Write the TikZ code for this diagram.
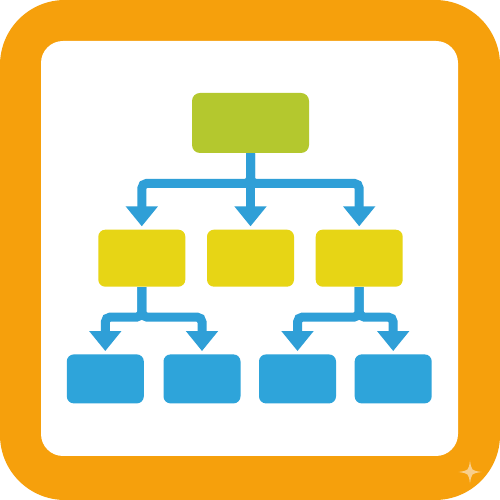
\documentclass[tikz,border=0pt]{standalone}
\usepackage{tikz}
\usetikzlibrary{positioning,arrows.meta}
\definecolor{frameorange}{HTML}{F6A00C}
\definecolor{sparkpeach}{HTML}{F9CF8C}
\definecolor{rootgreen}{HTML}{B4C82E}
\definecolor{midyellow}{HTML}{E7D515}
\definecolor{leafblue}{HTML}{2EA4DA}
\definecolor{linkblue}{HTML}{2F9FD7}

\begin{document}
\begin{tikzpicture}[
                rootnode/.style={rectangle, rounded corners=1.6mm, fill=rootgreen, inner sep=0pt, minimum width=2.34cm, minimum height=1.2cm},
                midnode/.style={rectangle, rounded corners=1.4mm, fill=midyellow, inner sep=0pt, minimum width=1.74cm, minimum height=1.14cm},
                leafnode/.style={rectangle, rounded corners=1.4mm, fill=leafblue, inner sep=0pt, minimum width=1.54cm, minimum height=0.98cm},
                link/.style={draw=linkblue, line width=1.8mm, rounded corners=1mm, -{Triangle[width=6.2mm,length=4mm]}, shorten >=0.6mm},
            ]
            \useasboundingbox (0,0) rectangle (10,10);
            \fill[white] (0,0) rectangle (10,10);
            \fill[frameorange, rounded corners=13mm] (0,0) rectangle (10,10);
            \fill[white, rounded corners=4.4mm] (0.82,0.88) rectangle (9.16,9.18);
            \begin{scope}[shift={(9.4,0.56)}]
                \fill[sparkpeach] (0,0.23) .. controls (0.03,0.03) .. (0.23,0) .. controls (0.03,-0.03) .. (0,-0.23)
                    .. controls (-0.03,-0.03) .. (-0.23,0) .. controls (-0.03,0.03) .. cycle;
            \end{scope}

            \node[rootnode] (root)  at (5.01,7.54)                      {};
            \node[midnode]  (midB)  [below = 1.52 of root]              {};
            \node[midnode]  (midA)  [left = .42 of midB]                {};
            \node[midnode]  (midC)  [right = .42 of midB]               {};
            \node[leafnode] (leafB) [below = 1.34 of midB, xshift=-9.7mm] {};
            \node[leafnode] (leafC) [below = 1.34 of midB, xshift=9.4mm]  {};
            \node[leafnode] (leafA) [left = .38 of leafB]               {};
            \node[leafnode] (leafD) [right = .36 of leafC]              {};

            \draw[link] (root.south) -- ++(0,-0.6) -| (midA.north);
            \draw[link] (root.south) -- ++(0,-0.6) -| (midC.north);
            \draw[link] (root.south) -- (midB.north);
            \draw[link] (midA.south) -- ++(0,-0.6) -| (leafA.north);
            \draw[link] (midA.south) -- ++(0,-0.6) -| (leafB.north);
            \draw[link] (midC.south) -- ++(0,-0.6) -| (leafC.north);
            \draw[link] (midC.south) -- ++(0,-0.6) -| (leafD.north);
        \end{tikzpicture}
\end{document}
